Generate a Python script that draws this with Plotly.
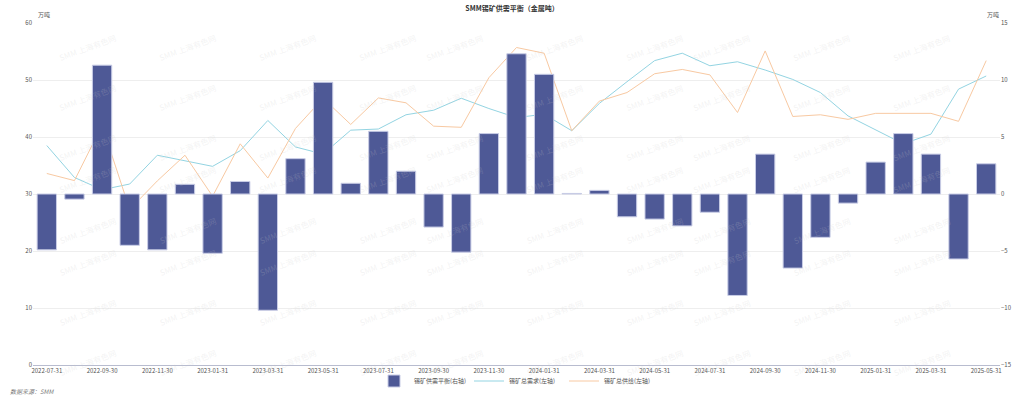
import plotly.graph_objects as go

dates = [
    "2022-07-31", "2022-08-31", "2022-09-30", "2022-10-31", "2022-11-30", "2022-12-31",
    "2023-01-31", "2023-02-28", "2023-03-31", "2023-04-30", "2023-05-31", "2023-06-30",
    "2023-07-31", "2023-08-31", "2023-09-30", "2023-10-31", "2023-11-30", "2023-12-31",
    "2024-01-31", "2024-02-29", "2024-03-31", "2024-04-30", "2024-05-31", "2024-06-30",
    "2024-07-31", "2024-08-31", "2024-09-30", "2024-10-31", "2024-11-30", "2024-12-31",
    "2025-01-31", "2025-02-28", "2025-03-31", "2025-04-30", "2025-05-31",
]

balance = [
    -4.9, -0.45, 11.3, -4.5, -4.9, 0.85,
    -5.2, 1.1, -10.2, 3.1, 9.8, 0.94,
    5.5, 2.0, -2.9, -5.1, 5.3, 12.3,
    10.5, 0.05, 0.32, -2.0, -2.2, -2.8,
    -1.6, -8.9, 3.5, -6.5, -3.8, -0.8,
    2.8, 5.3, 3.5, -5.7, 2.65,
]

demand = [
    38.5, 32.9, 30.75, 31.75, 36.8, 35.8,
    34.85, 37.6, 42.9, 38.25, 37.0, 41.2,
    41.4, 43.9, 44.7, 46.8, 45.0, 43.4,
    44.0, 41.1, 45.9, 49.7, 53.4, 54.7,
    52.5, 53.2, 51.75, 50.1, 47.8, 43.7,
    41.2, 38.8, 40.5, 48.4, 50.7,
]

supply = [
    33.6, 32.35, 42.05, 27.3, 32.3, 36.8,
    29.6, 38.8, 32.8, 41.5, 46.8, 42.2,
    46.85, 46.0, 41.9, 41.7, 50.4, 55.7,
    54.7, 41.1, 46.3, 47.8, 51.1, 51.85,
    50.9, 44.3, 55.1, 43.6, 43.9, 43.1,
    44.15, 44.15, 44.15, 42.75, 53.4,
]

tick_labels = dates[::2]

title_text = "SMM锡矿供需平衡（金属吨）"
name_balance = "锡矿供需平衡(右轴)"
name_demand = "锡矿总需求(左轴)"
name_supply = "锡矿总供给(左轴)"
unit = "万吨"
source = "数据来源：SMM"
watermark = "SMM 上海有色网"

FONT = "Noto Sans CJK SC, Noto Sans, sans-serif"

W, H = 1024, 399
L, R, T, B = 33, 24, 23, 34
pw, ph = W - L - R, H - T - B


def px_to_paper(xp, yp):
    return (xp - L) / pw, 1 - (yp - T) / ph


fig = go.Figure()
fig.add_trace(go.Bar(
    x=dates, y=balance, name=name_balance, yaxis="y2",
    marker=dict(color="#4e5996", line=dict(color="#c9cde6", width=1)),
    width=0.7,
))
fig.add_trace(go.Scatter(
    x=dates, y=demand, name=name_demand, mode="lines",
    line=dict(color="#93d4e2", width=1),
))
fig.add_trace(go.Scatter(
    x=dates, y=supply, name=name_supply, mode="lines",
    line=dict(color="#f8c9a2", width=1),
))

annotations = [
    dict(text=unit, x=0, xref="paper", xanchor="left", xshift=3, y=1, yref="paper",
         yanchor="bottom", yshift=2, showarrow=False, font=dict(size=6, color="#555")),
    dict(text=unit, x=1, xref="paper", xanchor="right", xshift=1, y=1, yref="paper",
         yanchor="bottom", yshift=2, showarrow=False, font=dict(size=6, color="#555")),
]
sx, sy = px_to_paper(8, 391)
annotations.append(dict(text="<i>" + source + "</i>", x=sx, xref="paper", xanchor="left",
                        y=sy, yref="paper", yanchor="middle", showarrow=False,
                        font=dict(size=6, color="#777")))

# faint watermark grid
for r in range(8):
    for c in range(10):
        ax, ay = px_to_paper(55 + c * 100, 30 + r * 50)
        annotations.append(dict(
            text=watermark, x=ax, y=ay, xref="paper", yref="paper",
            showarrow=False, textangle=-20,
            font=dict(size=8, color="rgba(200,200,200,0.22)"),
        ))

fig.update_layout(
    width=W, height=H,
    margin=dict(l=L, r=R, t=T, b=B, autoexpand=False),
    paper_bgcolor="white", plot_bgcolor="white",
    font=dict(family=FONT, size=6, color="#555"),
    title=dict(text="<b>" + title_text + "</b>", x=0.5, xanchor="center",
               y=1 - 9 / H, yref="container", yanchor="middle",
               font=dict(size=7, color="#333")),
    bargap=0.3,
    xaxis=dict(
        type="category", tickmode="array", tickvals=tick_labels, ticktext=tick_labels,
        showgrid=False, showline=True, linecolor="#b8bccf", linewidth=1,
        ticks="", tickfont=dict(size=6, color="#555"), automargin=False,
    ),
    yaxis=dict(
        range=[0, 60], dtick=10, showgrid=True, gridcolor="#eeeeee", gridwidth=1,
        zeroline=False, showline=False, ticks="", tickfont=dict(size=6, color="#555"),
        automargin=False,
    ),
    yaxis2=dict(
        range=[-15, 15], dtick=5, overlaying="y", side="right", showgrid=False,
        zeroline=False, showline=False, ticks="", tickfont=dict(size=6, color="#555"),
        automargin=False,
    ),
    legend=dict(orientation="h", x=0.5, xanchor="center", y=1 - 381 / H,
                yref="container", yanchor="middle", bgcolor="rgba(0,0,0,0)",
                font=dict(size=6, color="#555"), itemwidth=30, traceorder="normal",
                entrywidth=50, entrywidthmode="pixels", tracegroupgap=0),
    annotations=annotations,
    showlegend=True,
)

fig.write_html("out.html", config={"displayModeBar": False},
               post_script="document.body.style.margin='0px';")
